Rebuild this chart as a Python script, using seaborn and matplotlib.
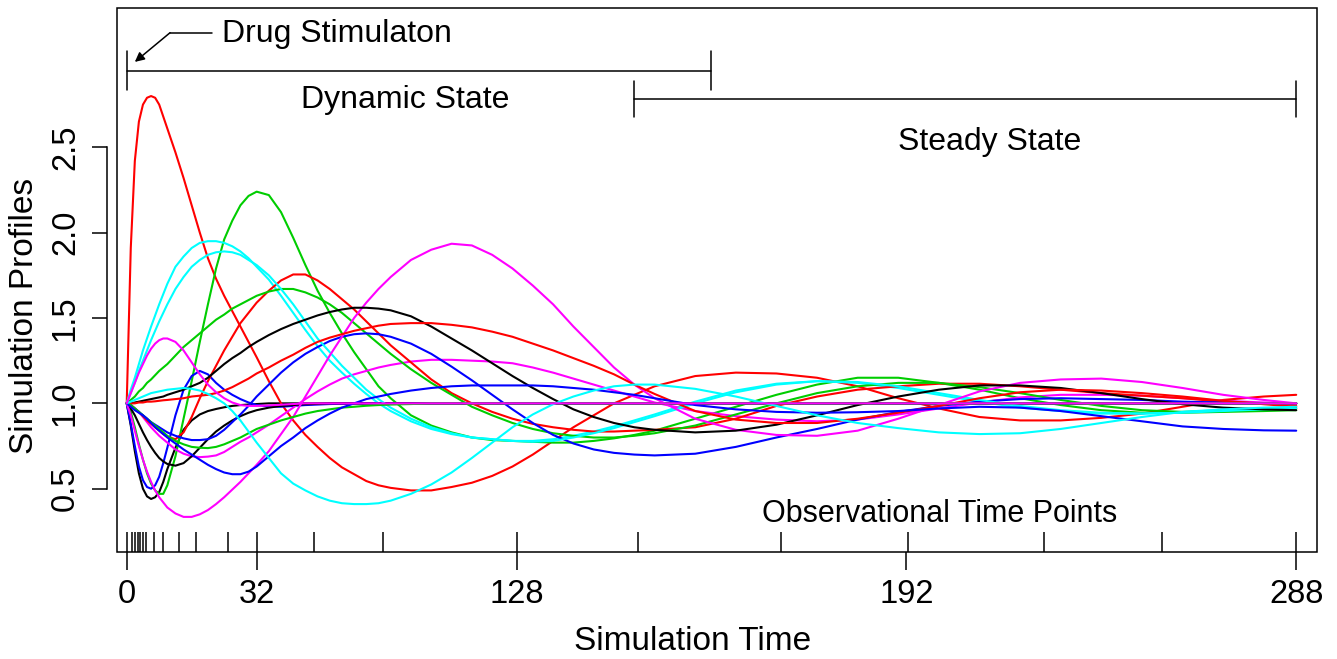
import numpy as np
import pandas as pd
import matplotlib.pyplot as plt
import seaborn as sns

sns.set_style('ticks')
plt.rcParams['font.family'] = ['Liberation Sans', 'DejaVu Sans']
for key in ['text.color', 'axes.labelcolor', 'xtick.color', 'ytick.color', 'axes.edgecolor']:
    plt.rcParams[key] = 'black'

time = [0, 1, 2, 3, 4, 5, 6, 7, 8, 9, 10,
        12, 14, 16, 18, 20, 22, 24, 26, 28, 30, 32,
        35, 38, 41, 44, 47, 50, 53, 56, 59, 62, 65,
        70, 75, 80, 85, 90, 95, 100, 105, 110, 115, 120, 125, 130,
        140, 150, 160, 170, 180, 190, 200, 210, 220, 230, 240, 250, 260, 270, 280,
        288]

# profiles, in matplot drawing order (black, red, green3, blue, cyan, magenta)
black_1 = ([1.00, 0.87, 0.72, 0.59, 0.50, 0.455, 0.44, 0.45, 0.48, 0.54, 0.615,
            0.74, 0.845, 0.90, 0.935, 0.955, 0.967, 0.977, 0.985, 0.99, 0.993, 0.996]
           + [1.00] * 40)
red_1 = [1.00, 1.91, 2.42, 2.65, 2.75, 2.79, 2.80, 2.79, 2.75, 2.68, 2.61,
         2.47, 2.32, 2.16, 2.00, 1.85, 1.73, 1.63, 1.54, 1.45, 1.36, 1.27,
         1.13, 1.00, 0.90, 0.815, 0.745, 0.68, 0.625, 0.585, 0.545, 0.52, 0.505,
         0.49, 0.49, 0.51, 0.535, 0.575, 0.63, 0.70, 0.78, 0.86, 0.93, 1.00, 1.05, 1.10,
         1.16, 1.18, 1.175, 1.15, 1.10, 1.03, 0.97, 0.92, 0.90, 0.90, 0.915, 0.94, 0.98, 1.02, 1.04,
         1.05]
green_1 = [1.00, 0.95, 0.86, 0.76, 0.67, 0.59, 0.53, 0.49, 0.47, 0.47, 0.52,
           0.69, 0.91, 1.13, 1.36, 1.58, 1.79, 1.96, 2.07, 2.16, 2.215, 2.24,
           2.22, 2.12, 1.97, 1.81, 1.66, 1.53, 1.41, 1.30, 1.20, 1.10, 1.03,
           0.93, 0.87, 0.83, 0.80, 0.785, 0.78, 0.775, 0.77, 0.77, 0.78, 0.795, 0.815, 0.84,
           0.91, 0.98, 1.05, 1.11, 1.15, 1.15, 1.12, 1.08, 1.03, 0.99, 0.96, 0.945, 0.945, 0.95, 0.955,
           0.96]
blue_1 = ([1.00, 0.88, 0.75, 0.63, 0.55, 0.51, 0.50, 0.52, 0.57, 0.65, 0.74,
           0.93, 1.08, 1.16, 1.19, 1.17, 1.12, 1.08, 1.05, 1.025, 1.005, 0.99,
           0.982, 0.98, 0.985, 0.99, 0.993, 0.996, 0.998]
          + [1.00] * 33)
cyan_1 = [1.00, 1.08, 1.15, 1.23, 1.31, 1.38, 1.45, 1.515, 1.58, 1.64, 1.70,
          1.80, 1.86, 1.91, 1.94, 1.95, 1.95, 1.94, 1.92, 1.89, 1.85, 1.80,
          1.725, 1.63, 1.53, 1.43, 1.335, 1.25, 1.18, 1.115, 1.055, 1.00, 0.955,
          0.895, 0.85, 0.82, 0.80, 0.79, 0.78, 0.78, 0.79, 0.81, 0.835, 0.865, 0.90, 0.935,
          1.01, 1.075, 1.115, 1.13, 1.12, 1.09, 1.05, 1.01, 0.975, 0.955, 0.94, 0.94, 0.95, 0.96, 0.97,
          0.975]
magenta_1 = [1.00, 0.99, 0.97, 0.95, 0.92, 0.89, 0.86, 0.835, 0.81, 0.79, 0.77,
             0.73, 0.705, 0.69, 0.685, 0.688, 0.695, 0.715, 0.745, 0.775, 0.80, 0.83,
             0.875, 0.925, 0.975, 1.025, 1.07, 1.11, 1.145, 1.17, 1.19, 1.21, 1.225,
             1.245, 1.255, 1.255, 1.25, 1.245, 1.235, 1.21, 1.18, 1.145, 1.11, 1.075, 1.04, 1.005,
             0.955, 0.925, 0.905, 0.895, 0.905, 0.935, 0.97, 1.005, 1.035, 1.05, 1.05, 1.045, 1.03,
             1.015, 1.005,
             1.00]
black_2 = ([1.00, 0.97, 0.93, 0.88, 0.83, 0.785, 0.745, 0.71, 0.68, 0.66, 0.645,
            0.635, 0.65, 0.69, 0.74, 0.79, 0.835, 0.87, 0.90, 0.925, 0.945, 0.96,
            0.975, 0.985, 0.99, 0.995, 0.997]
           + [1.00] * 35)
red_2 = [1.00, 0.99, 0.97, 0.95, 0.925, 0.90, 0.88, 0.86, 0.84, 0.82, 0.805,
         0.79, 0.83, 0.92, 1.03, 1.13, 1.22, 1.31, 1.39, 1.47, 1.53, 1.59,
         1.66, 1.72, 1.755, 1.755, 1.72, 1.67, 1.61, 1.55, 1.48, 1.41, 1.34,
         1.24, 1.14, 1.06, 1.00, 0.95, 0.91, 0.88, 0.86, 0.845, 0.835, 0.835, 0.84, 0.845,
         0.86, 0.91, 0.985, 1.04, 1.08, 1.10, 1.115, 1.115, 1.10, 1.08, 1.06, 1.045, 1.03, 1.01, 1.00,
         0.99]
green_2 = [1.00, 1.02, 1.04, 1.07, 1.09, 1.12, 1.14, 1.165, 1.19, 1.21, 1.23,
           1.28, 1.33, 1.37, 1.41, 1.45, 1.49, 1.52, 1.555, 1.58, 1.605, 1.63,
           1.655, 1.67, 1.67, 1.65, 1.62, 1.58, 1.53, 1.47, 1.41, 1.35, 1.29,
           1.20, 1.12, 1.05, 0.98, 0.93, 0.885, 0.85, 0.825, 0.81, 0.80, 0.80, 0.81, 0.825,
           0.87, 0.935, 1.00, 1.06, 1.10, 1.12, 1.12, 1.095, 1.06, 1.02, 0.985, 0.96, 0.95, 0.955, 0.965,
           0.97]
blue_2 = [1.00, 0.99, 0.97, 0.95, 0.93, 0.91, 0.89, 0.875, 0.86, 0.845, 0.83,
          0.81, 0.795, 0.785, 0.785, 0.79, 0.81, 0.845, 0.89, 0.935, 0.985, 1.04,
          1.11, 1.18, 1.24, 1.29, 1.33, 1.365, 1.39, 1.405, 1.41, 1.405, 1.39,
          1.35, 1.29, 1.215, 1.135, 1.05, 0.965, 0.885, 0.815, 0.765, 0.73, 0.71, 0.70, 0.695,
          0.705, 0.745, 0.80, 0.85, 0.905, 0.95, 0.985, 1.01, 1.025, 1.03, 1.025, 1.02, 1.01, 1.005, 1.00,
          1.00]
cyan_2 = [1.00, 1.06, 1.12, 1.19, 1.25, 1.31, 1.37, 1.425, 1.48, 1.53, 1.58,
          1.67, 1.74, 1.80, 1.84, 1.87, 1.885, 1.89, 1.885, 1.87, 1.84, 1.81,
          1.75, 1.67, 1.58, 1.48, 1.38, 1.30, 1.22, 1.15, 1.08, 1.025, 0.975,
          0.91, 0.86, 0.825, 0.80, 0.79, 0.78, 0.775, 0.78, 0.80, 0.825, 0.855, 0.89, 0.925,
          1.00, 1.065, 1.11, 1.13, 1.125, 1.10, 1.06, 1.02, 0.985, 0.96, 0.945, 0.94, 0.945, 0.955, 0.965,
          0.97]
magenta_2 = [1.00, 0.93, 0.84, 0.75, 0.67, 0.60, 0.54, 0.49, 0.45, 0.42, 0.39,
             0.355, 0.335, 0.335, 0.35, 0.375, 0.41, 0.45, 0.495, 0.54, 0.59, 0.64,
             0.72, 0.82, 0.92, 1.04, 1.16, 1.28, 1.39, 1.50, 1.59, 1.67, 1.74,
             1.84, 1.90, 1.935, 1.925, 1.87, 1.79, 1.69, 1.58, 1.45, 1.33, 1.21, 1.11, 1.03,
             0.91, 0.845, 0.815, 0.81, 0.84, 0.91, 0.99, 1.07, 1.12, 1.14, 1.145, 1.125, 1.09, 1.05, 1.02,
             1.00]
black_3 = [1.00, 1.00, 1.005, 1.01, 1.015, 1.02, 1.025, 1.03, 1.035, 1.04, 1.05,
           1.065, 1.08, 1.10, 1.12, 1.15, 1.19, 1.23, 1.265, 1.295, 1.33, 1.36,
           1.40, 1.435, 1.465, 1.49, 1.515, 1.535, 1.55, 1.56, 1.56, 1.555, 1.545,
           1.51, 1.45, 1.38, 1.31, 1.235, 1.16, 1.09, 1.025, 0.965, 0.92, 0.885, 0.86, 0.845,
           0.83, 0.84, 0.875, 0.93, 0.99, 1.04, 1.08, 1.105, 1.105, 1.09, 1.06, 1.025, 0.995, 0.975, 0.965,
           0.96]
red_3 = [1.00, 1.00, 1.00, 1.005, 1.005, 1.01, 1.01, 1.012, 1.015, 1.018, 1.02,
         1.025, 1.03, 1.04, 1.045, 1.05, 1.06, 1.075, 1.095, 1.12, 1.145, 1.175,
         1.21, 1.25, 1.285, 1.325, 1.36, 1.385, 1.405, 1.425, 1.44, 1.455, 1.465,
         1.47, 1.47, 1.46, 1.445, 1.42, 1.39, 1.35, 1.31, 1.265, 1.22, 1.17, 1.11, 1.055,
         0.955, 0.905, 0.885, 0.885, 0.91, 0.945, 0.985, 1.03, 1.065, 1.08, 1.075, 1.06, 1.04, 1.015, 0.995,
         0.98]
green_3 = ([1.00, 0.99, 0.97, 0.95, 0.93, 0.91, 0.89, 0.87, 0.85, 0.83, 0.81,
            0.78, 0.76, 0.745, 0.74, 0.738, 0.745, 0.76, 0.78, 0.80, 0.825, 0.85,
            0.875, 0.90, 0.92, 0.94, 0.955, 0.965, 0.975, 0.98, 0.986, 0.99, 0.993,
            0.996]
           + [1.00] * 28)
blue_3 = [1.00, 0.98, 0.96, 0.945, 0.93, 0.91, 0.885, 0.86, 0.84, 0.82, 0.80,
          0.765, 0.73, 0.70, 0.67, 0.64, 0.615, 0.595, 0.585, 0.585, 0.60, 0.63,
          0.69, 0.75, 0.80, 0.855, 0.90, 0.94, 0.975, 1.00, 1.025, 1.04, 1.055,
          1.075, 1.09, 1.10, 1.105, 1.105, 1.105, 1.105, 1.10, 1.09, 1.08, 1.065, 1.05, 1.03,
          0.99, 0.965, 0.95, 0.945, 0.948, 0.955, 0.97, 0.98, 0.975, 0.955, 0.925, 0.895, 0.865, 0.85, 0.842,
          0.84]
cyan_3 = [1.00, 1.01, 1.02, 1.03, 1.04, 1.05, 1.06, 1.065, 1.07, 1.075, 1.08,
          1.085, 1.09, 1.085, 1.075, 1.055, 1.03, 1.00, 0.955, 0.90, 0.835, 0.77,
          0.68, 0.59, 0.53, 0.49, 0.455, 0.43, 0.415, 0.41, 0.41, 0.415, 0.43,
          0.47, 0.525, 0.595, 0.68, 0.77, 0.86, 0.935, 0.995, 1.04, 1.075, 1.10, 1.11, 1.11,
          1.085, 1.04, 0.985, 0.93, 0.885, 0.855, 0.83, 0.82, 0.825, 0.85, 0.885, 0.92, 0.95, 0.965, 0.975,
          0.98]
magenta_3 = ([1.00, 1.06, 1.12, 1.18, 1.23, 1.28, 1.32, 1.35, 1.37, 1.38, 1.38,
              1.36, 1.31, 1.24, 1.17, 1.11, 1.065, 1.03, 1.005, 0.99, 0.985, 0.985,
              0.988, 0.992, 0.996]
             + [1.00] * 37)

# observational time points (rug at the bottom)
obs_times = [0, 1.25, 2, 2.7, 3.35, 4, 4.7, 6.8, 9, 12.9, 17, 24.9, 32, 46, 63, 96, 126,
             161, 192.5, 226, 255, 288]

x_ticks = [0, 32, 96, 192, 288]
x_tick_labels = ['0', '32', '128', '192', '288']
y_ticks = [0.5, 1.0, 1.5, 2.0, 2.5]
dynamic_span = [0, 144]
steady_span = [125, 288]

profiles = {
    'black_1': black_1, 'red_1': red_1, 'green_1': green_1, 'blue_1': blue_1,
    'cyan_1': cyan_1, 'magenta_1': magenta_1,
    'black_2': black_2, 'red_2': red_2, 'green_2': green_2, 'blue_2': blue_2,
    'cyan_2': cyan_2, 'magenta_2': magenta_2,
    'black_3': black_3, 'red_3': red_3, 'green_3': green_3, 'blue_3': blue_3,
    'cyan_3': cyan_3, 'magenta_3': magenta_3,
}
r_cols = {'black': '#000000', 'red': '#FF0000', 'green': '#00CD00',
          'blue': '#0000FF', 'cyan': '#00FFFF', 'magenta': '#FF00FF'}
palette = {k: r_cols[k.split('_')[0]] for k in profiles}

df = pd.DataFrame(profiles)
df['time'] = time
df = df.melt(id_vars='time', var_name='profile', value_name='value')

fig = plt.figure(figsize=(13.37, 6.59), dpi=100)
ax = fig.add_axes([0.0873, 0.1628, 0.8980, 0.8246])

sns.lineplot(data=df, x='time', y='value', hue='profile', hue_order=list(profiles),
             palette=palette, estimator=None, sort=False, legend=False,
             linewidth=1.5, ax=ax)
sns.rugplot(x=obs_times, height=0.036, color='black', linewidth=1.1,
            expand_margins=False, ax=ax)

ax.set_xlim(-2.46, 293.2)
ax.set_ylim(0.131, 3.314)

# annotations
ax.plot(dynamic_span, [2.948, 2.948], color='black', lw=1.1)
for x in dynamic_span:
    ax.plot([x, x], [2.835, 3.065], color='black', lw=1.1)
ax.plot(steady_span, [2.783, 2.783], color='black', lw=1.1)
for x in steady_span:
    ax.plot([x, x], [2.675, 2.89], color='black', lw=1.1)
ax.text(68.5, 2.776, 'Dynamic State', fontsize=23, ha='center', va='center')
ax.text(212.4, 2.530, 'Steady State', fontsize=23, ha='center', va='center')
ax.text(200.3, 0.351, 'Observational Time Points', fontsize=22, ha='center', va='center')
ax.text(23.4, 3.162, 'Drug Stimulaton', fontsize=23, ha='left', va='center')
ax.plot([10.67, 20.9], [3.171, 3.171], color='black', lw=1.1)
ax.annotate('', xy=(2.0, 3.0), xytext=(10.67, 3.171),
            arrowprops=dict(arrowstyle='-|>', color='black', lw=1.1,
                            mutation_scale=14, shrinkA=0, shrinkB=0))

# R-style axes: full box, y axis line offset from the box
for s in ['top', 'right', 'bottom']:
    ax.spines[s].set_visible(False)
ax.spines['left'].set_position(('outward', 7))
ax.spines['left'].set_bounds(0.5, 2.5)
ax.spines['left'].set_linewidth(1.1)
ax.add_patch(plt.Rectangle((0, 0), 1, 1, transform=ax.transAxes, fill=False,
                           lw=1.1, edgecolor='black', clip_on=False, zorder=5))

ax.set_xticks(x_ticks)
ax.set_xticklabels(x_tick_labels)
ax.set_yticks(y_ticks)
ax.set_yticklabels([f'{v:.1f}' for v in y_ticks])
ax.tick_params(axis='x', length=13, width=1.1, pad=7, labelsize=23.5)
ax.tick_params(axis='y', length=10.8, width=1.1, pad=8, labelsize=23.5, labelrotation=90)
for lab in ax.get_yticklabels():
    lab.set_va('center')

ax.set_xlabel('Simulation Time', fontsize=24)
ax.set_ylabel('Simulation Profiles', fontsize=24)
ax.xaxis.set_label_coords(0.48, -0.137)
ax.yaxis.set_label_coords(-0.064, 0.434)

fig.savefig('out.png', dpi=100)
